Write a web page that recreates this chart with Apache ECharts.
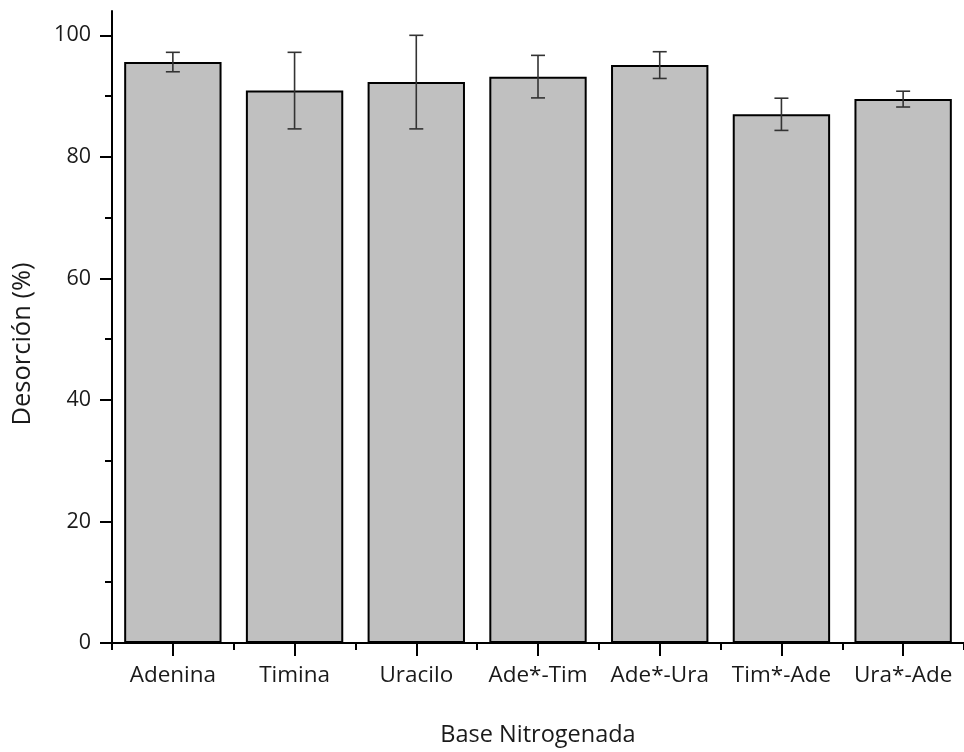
<!DOCTYPE html>
<html>
<head>
<meta charset="utf-8">
<script src="https://cdn.jsdelivr.net/npm/echarts@6/dist/echarts.min.js"></script>
<style>
html,body{margin:0;padding:0;background:#fff;}
#chart{width:964px;height:752px;}
</style>
</head>
<body>
<div id="chart"></div>
<script>
const categories = ['Adenina', 'Timina', 'Uracilo', 'Ade*-Tim', 'Ade*-Ura', 'Tim*-Ade', 'Ura*-Ade'];
const means = [95.6, 90.9, 92.3, 93.2, 95.1, 87.0, 89.5];
const errors = [1.6, 6.3, 7.7, 3.5, 2.2, 2.65, 1.3];
const yMajorTicks = [0, 20, 40, 60, 80, 100];
const yMinorTicks = [10, 30, 50, 70, 90];

const FONT = 'Open Sans';
const errData = means.map((m, i) => [i, m - errors[i], m + errors[i]]);

const chart = echarts.init(document.getElementById('chart'), null, {renderer: 'canvas'});
chart.setOption({
  animation: false,
  backgroundColor: '#ffffff',
  grid: {left: 112, top: 11, width: 857, height: 634, containLabel: false},
  xAxis: [{
    type: 'category',
    data: categories,
    boundaryGap: true,
    axisLine: {show: true, lineStyle: {color: '#000', width: 2}},
    axisTick: {show: true, alignWithLabel: true, length: 13, lineStyle: {color: '#000', width: 2}},
    axisLabel: {color: '#1a1a1a', fontFamily: FONT, fontSize: 22.5, margin: 21, interval: 0},
    splitLine: {show: false},
    name: 'Base Nitrogenada',
    nameLocation: 'middle',
    nameGap: 80,
    nameTextStyle: {color: '#1a1a1a', fontFamily: FONT, fontSize: 23.5}
  }, {
    type: 'category',
    data: categories,
    boundaryGap: true,
    position: 'bottom',
    axisLine: {show: false},
    axisTick: {show: true, alignWithLabel: false, length: 7, lineStyle: {color: '#000', width: 2}},
    axisLabel: {show: false},
    splitLine: {show: false}
  }],
  yAxis: [{
    type: 'value',
    min: 0,
    max: 104,
    interval: 20,
    axisLine: {show: true, lineStyle: {color: '#000', width: 2}},
    axisTick: {show: true, customValues: yMajorTicks, length: 12, lineStyle: {color: '#000', width: 2}},
    axisLabel: {customValues: yMajorTicks, color: '#1a1a1a', fontFamily: FONT, fontSize: 21.5, margin: 21},
    splitLine: {show: false},
    name: 'Desorción (%)',
    nameLocation: 'middle',
    nameGap: 76,
    nameTextStyle: {color: '#1a1a1a', fontFamily: FONT, fontSize: 25.5, padding: [0, 34, 0, 0]}
  }, {
    type: 'value',
    min: 0,
    max: 104,
    interval: 20,
    position: 'left',
    axisLine: {show: false},
    axisTick: {show: true, customValues: yMinorTicks, length: 7, lineStyle: {color: '#000', width: 2}},
    axisLabel: {show: false},
    splitLine: {show: false}
  }],
  series: [{
    type: 'bar',
    data: means,
    barCategoryGap: '20%',
    itemStyle: {color: '#c0c0c0', borderColor: '#000', borderWidth: 2},
    z: 2
  }, {
    type: 'custom',
    data: errData,
    z: 3,
    renderItem: function (params, api) {
      const x = api.value(0);
      const lo = api.coord([x, api.value(1)]);
      const hi = api.coord([x, api.value(2)]);
      const hw = 7;
      const st = {stroke: '#333', lineWidth: 1.6};
      return {
        type: 'group',
        children: [
          {type: 'line', shape: {x1: hi[0], y1: hi[1], x2: lo[0], y2: lo[1]}, style: st},
          {type: 'line', shape: {x1: hi[0] - hw, y1: hi[1], x2: hi[0] + hw, y2: hi[1]}, style: st},
          {type: 'line', shape: {x1: lo[0] - hw, y1: lo[1], x2: lo[0] + hw, y2: lo[1]}, style: st}
        ]
      };
    }
  }]
});
</script>
</body>
</html>
